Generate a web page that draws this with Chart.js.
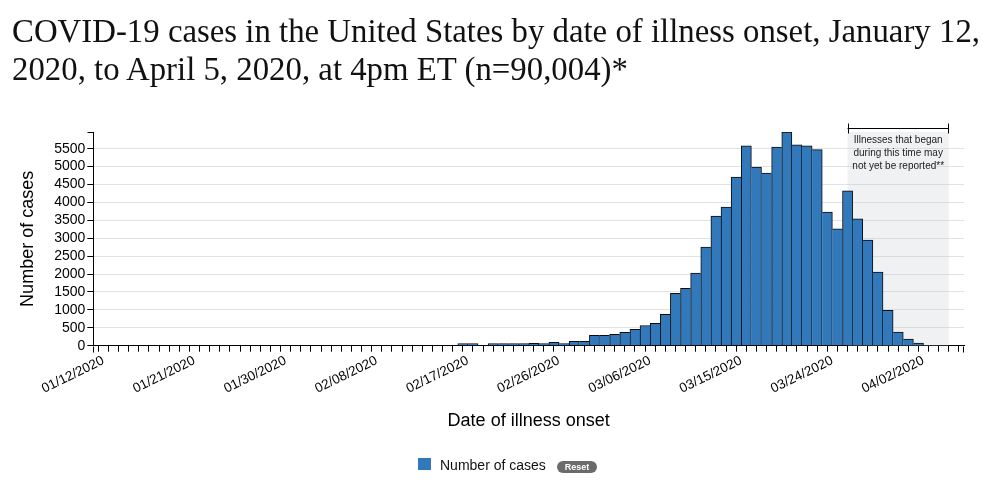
<!DOCTYPE html>
<html>
<head>
<meta charset="utf-8">
<script src="https://cdn.jsdelivr.net/npm/chart.js@4.4.0/dist/chart.umd.min.js"></script>
<style>
  html, body { margin: 0; padding: 0; background: #fff; width: 994px; height: 483px; overflow: hidden; }
  #wrap { position: relative; width: 994px; height: 483px; }
  #chart { position: absolute; left: 0; top: 0; }
  .tline { position: absolute; left: 12px; font-family: "Liberation Serif", "DejaVu Serif", serif; font-size: 33px; line-height: 33px; color: #111; white-space: nowrap; transform-origin: 0 0; }
  #legBox { position: absolute; left: 418px; top: 458px; width: 13px; height: 12px; background: #3279bb; }
  #legTxt { position: absolute; left: 440px; top: 457px; font-family: "Liberation Sans", Arial, sans-serif; font-size: 14px; line-height: 16px; color: #111; }
  #reset { position: absolute; left: 557px; top: 461px; width: 40px; height: 12px; border-radius: 6px; background: #6b6b6b; color: #fff; font-family: "Liberation Sans", Arial, sans-serif; font-size: 9px; font-weight: bold; line-height: 12px; text-align: center; }
</style>
</head>
<body>
<div id="wrap">
  <canvas id="chart" width="994" height="483"></canvas>
  <div class="tline" id="t1">COVID-19 cases in the United States by date of illness onset, January 12,</div>
  <div class="tline" id="t2">2020, to April 5, 2020, at 4pm ET (n=90,004)*</div>
  <div id="legBox"></div>
  <div id="legTxt">Number of cases</div>
  <div id="reset">Reset</div>
</div>
<script>
// ---- data ----
const categories = [
  '01/12/2020','01/13/2020','01/14/2020','01/15/2020','01/16/2020','01/17/2020','01/18/2020','01/19/2020','01/20/2020','01/21/2020',
  '01/22/2020','01/23/2020','01/24/2020','01/25/2020','01/26/2020','01/27/2020','01/28/2020','01/29/2020','01/30/2020','01/31/2020',
  '02/01/2020','02/02/2020','02/03/2020','02/04/2020','02/05/2020','02/06/2020','02/07/2020','02/08/2020','02/09/2020','02/10/2020',
  '02/11/2020','02/12/2020','02/13/2020','02/14/2020','02/15/2020','02/16/2020','02/17/2020','02/18/2020','02/19/2020','02/20/2020',
  '02/21/2020','02/22/2020','02/23/2020','02/24/2020','02/25/2020','02/26/2020','02/27/2020','02/28/2020','02/29/2020','03/01/2020',
  '03/02/2020','03/03/2020','03/04/2020','03/05/2020','03/06/2020','03/07/2020','03/08/2020','03/09/2020','03/10/2020','03/11/2020',
  '03/12/2020','03/13/2020','03/14/2020','03/15/2020','03/16/2020','03/17/2020','03/18/2020','03/19/2020','03/20/2020','03/21/2020',
  '03/22/2020','03/23/2020','03/24/2020','03/25/2020','03/26/2020','03/27/2020','03/28/2020','03/29/2020','03/30/2020','03/31/2020',
  '04/01/2020','04/02/2020','04/03/2020','04/04/2020','04/05/2020','04/06/2020'
];
const cases = [
  0,0,0,0,0,0,0,0,0,0,
  0,0,0,0,0,0,0,0,0,0,
  0,0,0,0,0,0,0,0,0,0,
  0,0,0,0,0,0,20,20,0,10,
  10,10,12,67,39,95,56,123,123,290,
  290,318,374,458,565,626,878,1465,1605,2025,
  2752,3618,3870,4709,5584,4989,4821,5548,5967,5612,
  5584,5473,3730,3263,4326,3543,2947,2053,990,383,
  187,75,0,0,0,0
];
const tickLabels = ['01/12/2020','01/21/2020','01/30/2020','02/08/2020','02/17/2020','02/26/2020','03/06/2020','03/15/2020','03/24/2020','04/02/2020'];
const yTicks = [0,500,1000,1500,2000,2500,3000,3500,4000,4500,5000,5500];
const regionStart = '03/26/2020';
const regionEnd = '04/05/2020';
const regionText = ['Illnesses that began', 'during this time may', 'not yet be reported**'];

// ---- title fit ----
(function(){
  const t1 = document.getElementById('t1'), t2 = document.getElementById('t2');
  const s = 968 / t1.getBoundingClientRect().width;
  t1.style.top = '15px'; t2.style.top = '53px';
  t1.style.transform = 'scaleX(' + s + ')';
  t2.style.transform = 'scaleX(' + s + ')';
})();

const SANS = '"Liberation Sans", Arial, sans-serif';

function bw(ctx) {
  const i = ctx.dataIndex, v = cases[i];
  const prev = i > 0 ? cases[i-1] : 0;
  const next = i < cases.length - 1 ? cases[i+1] : 0;
  return { top: 1, bottom: 0, left: v > prev ? 1 : 0, right: v >= next ? 1 : 0 };
}

const regionPlugin = {
  id: 'region',
  beforeDatasetsDraw(chart) {
    const { ctx, chartArea: a, scales: { x } } = chart;
    const x1 = x.getPixelForValue(categories.indexOf(regionStart));
    const x2 = x.getPixelForValue(categories.indexOf(regionEnd));
    ctx.save();
    ctx.fillStyle = 'rgba(200,206,212,0.28)';
    ctx.fillRect(x1, a.top, x2 - x1, a.bottom - a.top);
    ctx.restore();
  },
  afterDraw(chart) {
    const { ctx, chartArea: a, scales: { x } } = chart;
    const x1 = x.getPixelForValue(categories.indexOf(regionStart));
    const x2 = x.getPixelForValue(categories.indexOf(regionEnd));
    ctx.save();
    ctx.strokeStyle = '#000';
    ctx.lineWidth = 1;
    const by = Math.round(a.top - 4) + 0.5;
    ctx.beginPath();
    ctx.moveTo(x1, by); ctx.lineTo(x2, by);
    ctx.moveTo(Math.round(x1) + 0.5, by - 5); ctx.lineTo(Math.round(x1) + 0.5, by + 5);
    ctx.moveTo(Math.round(x2) - 0.5, by - 5); ctx.lineTo(Math.round(x2) - 0.5, by + 5);
    // outer ticks
    const L = Math.round(a.left) + 0.5, R = Math.round(a.right) - 0.5, T = Math.round(a.top) + 0.5, B = Math.round(a.bottom) + 0.5;
    ctx.moveTo(L, B); ctx.lineTo(L, B + 6);
    ctx.moveTo(R, B); ctx.lineTo(R, B + 6);
    ctx.moveTo(L - 6, T); ctx.lineTo(L, T);
    ctx.stroke();
    ctx.fillStyle = '#222';
    ctx.font = '10px ' + SANS;
    ctx.textAlign = 'center';
    ctx.textBaseline = 'middle';
    const cx = (x1 + x2) / 2;
    regionText.forEach((t, k) => ctx.fillText(t, cx, a.top + 8 + k * 13));
    ctx.restore();
  }
};

new Chart(document.getElementById('chart'), {
  type: 'bar',
  data: {
    labels: categories,
    datasets: [{
      label: 'Number of cases',
      data: cases.map(v => (v === 0 ? null : v)),
      backgroundColor: '#3279bb',
      borderColor: '#0b0b0b',
      borderWidth: bw,
      borderSkipped: false,
      minBarLength: 2,
      categoryPercentage: 1,
      barPercentage: 1
    }]
  },
  options: {
    responsive: false,
    animation: false,
    devicePixelRatio: 1,
    layout: { padding: { left: 13, right: 30, top: 132, bottom: 47.3 } },
    plugins: { legend: { display: false }, tooltip: { enabled: false } },
    scales: {
      x: {
        type: 'category',
        offset: true,
        grid: { offset: false, drawOnChartArea: false, drawTicks: true, tickLength: 6, color: '#000', tickColor: '#000' },
        border: { display: true, color: '#000', width: 1 },
        ticks: {
          autoSkip: false, maxRotation: 26, minRotation: 26, padding: 1, labelOffset: 5,
          color: '#000', font: { family: SANS, size: 13.5 },
          callback: function(v, i) { return tickLabels.includes(categories[i]) ? categories[i] : ''; }
        },
        title: { display: true, text: 'Date of illness onset', color: '#000', font: { family: SANS, size: 18 } },
        afterFit: function(s) { s.height = 90; }
      },
      y: {
        min: 0,
        max: Math.max(...cases),
        afterBuildTicks: function(s) { s.ticks = yTicks.map(v => ({ value: v })); },
        grid: { color: '#e2e2e2', tickColor: '#000', tickLength: 6, drawTicks: true },
        border: { display: true, color: '#000', width: 1 },
        ticks: { autoSkip: false, color: '#000', padding: 2, font: { family: SANS, size: 14 },
                 callback: function(v) { return String(v); } },
        title: { display: true, text: 'Number of cases', color: '#000', font: { family: SANS, size: 18 } },
        afterFit: function(s) { s.width = 80.3; }
      }
    }
  },
  plugins: [regionPlugin]
});
</script>
</body>
</html>
